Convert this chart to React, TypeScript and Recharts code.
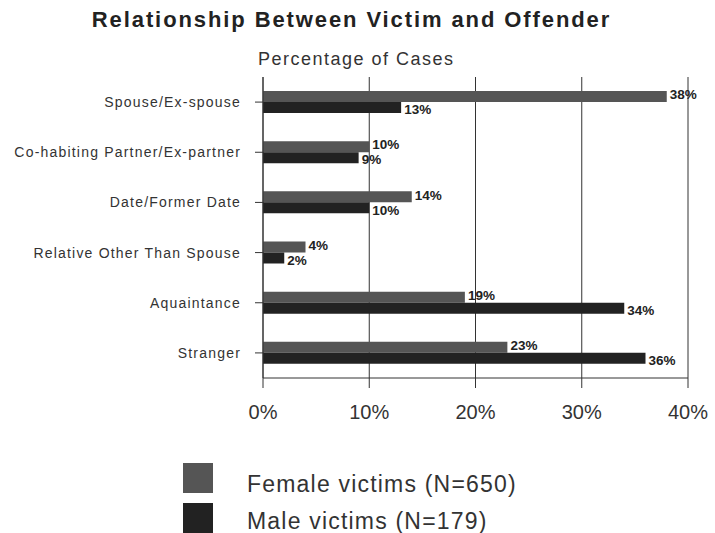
import { Bar, BarChart, CartesianGrid, LabelList, XAxis, YAxis } from "recharts";

const categories = [
  "Spouse/Ex-spouse",
  "Co-habiting Partner/Ex-partner",
  "Date/Former Date",
  "Relative Other Than Spouse",
  "Aquaintance",
  "Stranger",
];
const femaleVictims = [38, 10, 14, 4, 19, 23];
const maleVictims = [13, 9, 10, 2, 34, 36];
const xTicks = [0, 10, 20, 30, 40];

const data = categories.map((name, i) => ({
  name,
  female: femaleVictims[i],
  male: maleVictims[i],
}));

const FEMALE = "#555555";
const MALE = "#222222";
const font = "'Liberation Sans', Arial, sans-serif";

export default function App() {
  return (
    <div style={{ position: "absolute", left: 0, top: 0, width: 715, height: 533, fontFamily: font, background: "#fff" }}>
      <div style={{ position: "absolute", left: 0, width: 715, top: 7, textAlign: "center", paddingRight: 12, boxSizing: "border-box", fontSize: 22, fontWeight: "bold", color: "#222", letterSpacing: 1.9 }}>
        Relationship Between Victim and Offender
      </div>
      <div style={{ position: "absolute", left: 258, top: 49, fontSize: 18, color: "#333", letterSpacing: 1.5 }}>
        Percentage of Cases
      </div>
      <BarChart
        width={715}
        height={533}
        data={data}
        layout="vertical"
        margin={{ top: 77, right: 27, bottom: 115, left: 0 }}
        barSize={11}
        barGap={0}
      >
        <CartesianGrid horizontal={false} stroke="#333" strokeWidth={1} />
        <XAxis
          type="number"
          domain={[0, 40]}
          ticks={xTicks}
          tickFormatter={(v) => `${v}%`}
          height={40}
          tickSize={10}
          tickMargin={17}
          axisLine={{ stroke: "#333" }}
          tickLine={{ stroke: "#333" }}
          tick={{ fontSize: 20, fill: "#333", fontFamily: font }}
        />
        <YAxis
          type="category"
          dataKey="name"
          width={263}
          tickSize={8}
          tickMargin={14}
          axisLine={{ stroke: "#333" }}
          tickLine={{ stroke: "#333" }}
          tick={{ fontSize: 14, fill: "#333", fontFamily: font, letterSpacing: 1.2 }}
        />
        <Bar dataKey="female" fill={FEMALE} isAnimationActive={false}>
          <LabelList
            dataKey="female"
            position="right"
            offset={3}
            formatter={(v: number) => `${v}%`}
            style={{ fontSize: 13.5, fontWeight: "bold", fill: "#222", fontFamily: font, transform: "translateY(-2px)" }}
          />
        </Bar>
        <Bar dataKey="male" fill={MALE} isAnimationActive={false}>
          <LabelList
            dataKey="male"
            position="right"
            offset={3}
            formatter={(v: number) => `${v}%`}
            style={{ fontSize: 13.5, fontWeight: "bold", fill: "#222", fontFamily: font, transform: "translateY(2px)" }}
          />
        </Bar>
      </BarChart>
      <div style={{ position: "absolute", left: 183, top: 463, width: 30, height: 30, background: FEMALE }} />
      <div style={{ position: "absolute", left: 183, top: 503, width: 30, height: 30, background: MALE }} />
      <div style={{ position: "absolute", left: 247, top: 471, fontSize: 23, color: "#333", letterSpacing: 1.2 }}>
        Female victims (N=650)
      </div>
      <div style={{ position: "absolute", left: 247, top: 508, fontSize: 23, color: "#333", letterSpacing: 1.2 }}>
        Male victims (N=179)
      </div>
    </div>
  );
}
